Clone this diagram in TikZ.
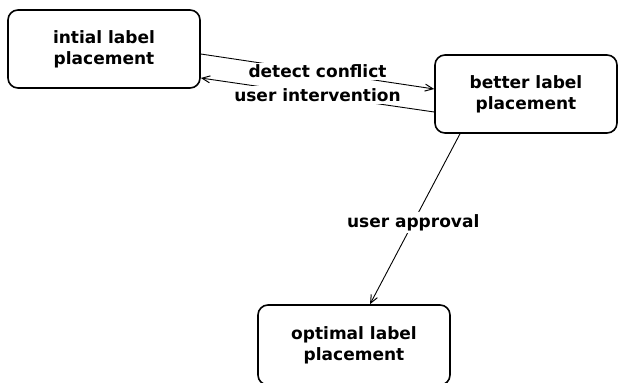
\documentclass[tikz,border=0pt]{standalone}
\usepackage{fontspec}
\setmainfont{DejaVu Sans}
\usetikzlibrary{arrows.meta,calc}
\tikzset{
  statebox/.style={draw=black, line width=1.6pt, rounded corners=10pt, fill=white,
    inner sep=0pt, align=center, font=\bfseries\fontsize{17}{21}\selectfont},
  flow/.style={draw=black, line width=0.9pt, -{Straight Barb[length=8pt,width=7pt,line width=1pt]}},
  flowlabel/.style={fill=white, inner sep=2pt, font=\bfseries\fontsize{17}{21}\selectfont}
}
\begin{document}
\begin{tikzpicture}[x=1pt,y=-1pt]
  \useasboundingbox (0,0) rectangle (619,383);
  % the three stages
  \node[statebox, minimum width=192pt, minimum height=78pt] (initial) at (104,49) {intial label\\placement};
  \node[statebox, minimum width=182pt, minimum height=78pt] (better) at (526,94) {better label\\placement};
  \node[statebox, minimum width=192pt, minimum height=80pt] (optimal) at (354,345) {optimal label\\placement};
  % transitions
  \draw[flow] ($(initial.east)+(0,5)$) -- node[flowlabel, pos=0.5] {detect conflict} ($(better.west)+(0,-5)$);
  \draw[flow] ($(better.west)+(0,18)$) -- node[flowlabel, pos=0.5] {user intervention} ($(initial.east)+(0,29)$);
  \draw[flow] ($(better.south)+(-66,0)$) -- node[flowlabel, pos=0.52] {user approval} ($(optimal.north)+(16,0)$);
\end{tikzpicture}
\end{document}
